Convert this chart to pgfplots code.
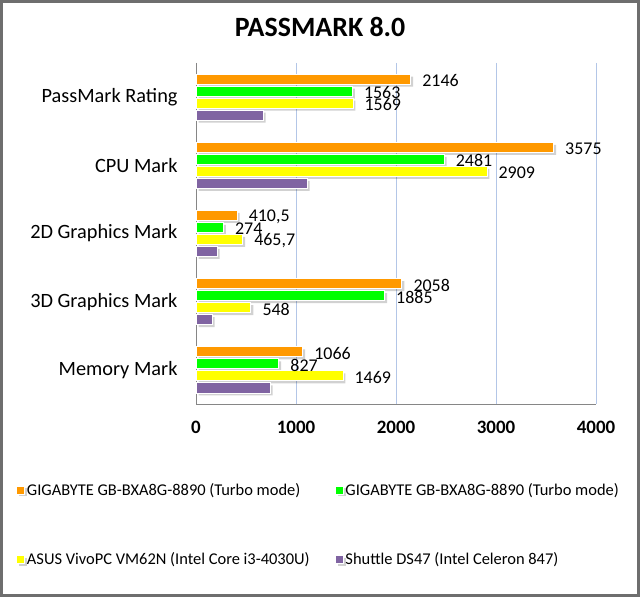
\documentclass[border=0pt]{standalone}
\usepackage{pgfplots}
\pgfplotsset{compat=1.18}
\usepackage{pgfplotstable}
\usepackage{fontspec}
\setmainfont{Carlito}
\definecolor{cOrange}{HTML}{FF9900}
\definecolor{cGreen}{HTML}{00FF00}
\definecolor{cYellow}{HTML}{FFFF00}
\definecolor{cPurple}{HTML}{8064A2}
\definecolor{cGrid}{HTML}{B3C6E7}
\definecolor{cAxis}{HTML}{868686}
\definecolor{cFrame}{HTML}{6E6E6E}

\pgfplotstableread{
c v l
0 2146 2146
1 3575 3575
2 410.5 410,5
3 2058 2058
4 1066 1066
}\orangedata
\pgfplotstableread{
c v l
0 1563 1563
1 2481 2481
2 274 274
3 1885 1885
4 827 827
}\greendata
\pgfplotstableread{
c v l
0 1569 1569
1 2909 2909
2 465.7 465,7
3 548 548
4 1469 1469
}\yellowdata
\pgfplotstableread{
c v
0 670
1 1110
2 210
3 160
4 740
}\purpledata

\begin{document}
\begin{tikzpicture}[x=1bp,y=1bp]
\path[use as bounding box] (0,0) rectangle (640,597);
\draw[cFrame, line width=3bp] (1.5,1.5) rectangle (638.5,595.5);
\node[font=\fontsize{28}{32}\selectfont\bfseries] at (320,570) {PASSMARK 8.0};
\begin{axis}[
  at={(196bp,193bp)}, anchor=south west,
  scale only axis, width=400bp, height=341bp,
  xbar=2bp, bar width=10bp,
  xmin=0, xmax=4000, ymin=-0.5, ymax=4.5,
  y dir=reverse,
  ytick={0,1,2,3,4},
  yticklabels={PassMark Rating, CPU Mark, 2D Graphics Mark, 3D Graphics Mark, Memory Mark},
  yticklabel style={font=\fontsize{20.4}{23}\selectfont, xshift=-15bp},
  xtick={0,1000,2000,3000,4000},
  xticklabels={0,1000,2000,3000,4000},
  xticklabel style={font=\fontsize{19}{22}\selectfont\bfseries, yshift=-14bp},
  major tick length=0pt,
  xmajorgrids, grid style={cGrid, line width=0.8bp},
  axis x line*=bottom, axis y line*=left,
  axis line style={cAxis, line width=0.8bp, -},
  point meta=explicit symbolic,
  nodes near coords style={font=\fontsize{18}{21}\selectfont, anchor=west, xshift=8bp, yshift=-1.5bp},
  legend columns=2,
  legend style={at={(-0.4575,-0.22)}, anchor=north west, draw=none, fill=none,
    font=\fontsize{16.5}{19}\selectfont, row sep=52bp,
    /tikz/every even column/.append style={column sep=23bp}},
  legend cell align=left,
  legend image code/.code={\fill[#1] (0bp,-4bp) rectangle (8bp,4bp);},
  every axis plot/.append style={draw=white, line width=0.8bp},
]
\addplot[fill=cOrange, bar shift=18bp, nodes near coords,
  preaction={fill=black, fill opacity=0.18, draw=none, transform canvas={shift={(2.5bp,-2.5bp)}}}]
  table[x=v, y=c, meta=l] {\orangedata};
\addplot[fill=cGreen, bar shift=6bp, nodes near coords,
  preaction={fill=black, fill opacity=0.18, draw=none, transform canvas={shift={(2.5bp,-2.5bp)}}}]
  table[x=v, y=c, meta=l] {\greendata};
\addplot[fill=cYellow, bar shift=-6bp, nodes near coords,
  preaction={fill=black, fill opacity=0.18, draw=none, transform canvas={shift={(2.5bp,-2.5bp)}}}]
  table[x=v, y=c, meta=l] {\yellowdata};
\addplot[fill=cPurple, bar shift=-18bp,
  preaction={fill=black, fill opacity=0.18, draw=none, transform canvas={shift={(2.5bp,-2.5bp)}}}]
  table[x=v, y=c] {\purpledata};
\legend{GIGABYTE GB-BXA8G-8890 (Turbo mode), GIGABYTE GB-BXA8G-8890 (Turbo mode), ASUS VivoPC VM62N (Intel Core i3-4030U), Shuttle DS47 (Intel Celeron 847)}
\end{axis}
\end{tikzpicture}
\end{document}
